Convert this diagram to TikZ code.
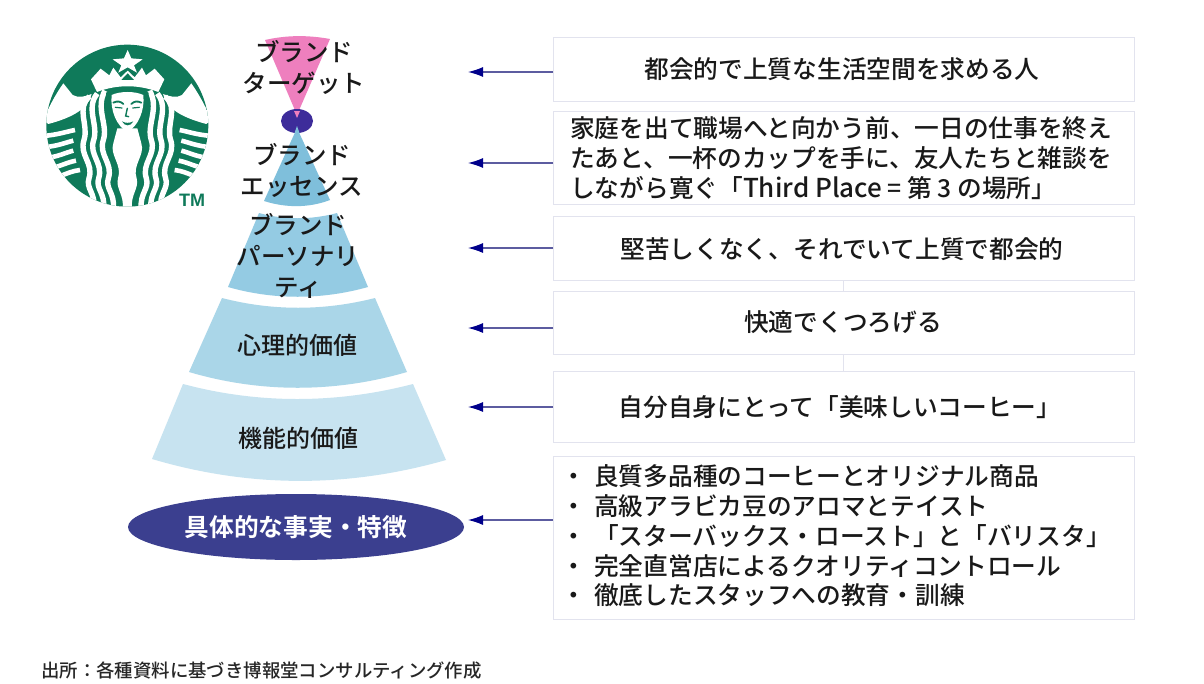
\documentclass[tikz,border=0pt]{standalone}
\usepackage{fontspec}
\setmainfont{Noto Sans CJK JP}[UprightFont={* Medium},BoldFont={* Bold}]
\newfontfamily\tmfont{Liberation Sans}
\definecolor{sbgreen}{HTML}{0F7A5A}
\definecolor{navyarrow}{HTML}{00008B}
\definecolor{arrowline}{HTML}{5C5CA0}
\definecolor{boxline}{HTML}{E2E3EE}
\definecolor{pinkseg}{HTML}{EE7FBE}
\definecolor{essseg}{HTML}{7FBFDB}
\definecolor{perseg}{HTML}{94CBE3}
\definecolor{psyseg}{HTML}{AAD6E8}
\definecolor{funseg}{HTML}{C7E3F0}
\definecolor{ellnavy}{HTML}{3B3F8F}
\definecolor{dotnavy}{HTML}{3D2C9A}
\usetikzlibrary{arrows.meta,shapes.geometric}
\newcommand{\listbul}{\makebox[33pt][l]{・}}
\tikzset{
  infobox/.style={draw=boxline,line width=1.4pt,fill=white,rectangle,inner sep=0pt,anchor=north west},
  infotext/.style={font=\fontsize{24.7}{30}\selectfont,text=black!90,align=left},
  lefttext/.style={font=\fontsize{24.5}{31}\selectfont,text=black!90,align=center},
  arrowconn/.style={draw=arrowline,line width=1.2pt,-{Latex[length=15pt,width=10pt,color=navyarrow]}},
}
\begin{document}
\begin{tikzpicture}[x=1pt,y=-1pt]
\useasboundingbox (0,0) rectangle (1204,683);
\fill[white] (0,0) rectangle (1204,683);
% segments
\fill[pinkseg] (265,40) .. controls (287,35) and (308,35) .. (330,39) -- (297,115) -- cycle;
\fill[essseg] (297,128) -- (330,200) .. controls (309,208) and (286,208) .. (264,201) -- cycle;
\fill[perseg] (259,213) .. controls (284,220) and (311,220) .. (337,213) -- (368,287) .. controls (322,300) and (273,300) .. (228,287) -- cycle;
\fill[psyseg] (222,298) .. controls (272,311) and (324,311) .. (375,298) -- (407,372) .. controls (335,393) and (260,393) .. (189,372) -- cycle;
\fill[funseg] (183,384) .. controls (258,404) and (336,404) .. (413,384) -- (446,460) .. controls (348,488) and (250,488) .. (152,459) -- cycle;
\node[fill=dotnavy,ellipse,minimum width=32pt,minimum height=24pt,inner sep=0pt] (dot) at (297,121) {};
\fill[pinkseg] (294,111) -- (300,111) -- (297,118) -- cycle;
\fill[essseg] (294.5,133) -- (299.5,133) -- (297,126) -- cycle;
\node[fill=ellnavy,ellipse,minimum width=336pt,minimum height=66pt,inner sep=0pt] (facts) at (296,527) {};
% left labels
\node[lefttext] (target) at (304,67) {ブランド\\ターゲット};
\node[lefttext] (essence) at (302,170) {ブランド\\エッセンス};
\node[lefttext] (personality) at (298,256) {ブランド\\パーソナリ\\ティ};
\node[lefttext] (psych) at (297,345) {\fontsize{24}{28}\selectfont 心理的価値};
\node[lefttext] (func) at (298,438) {\fontsize{24}{28}\selectfont 機能的価値};
\node[lefttext,text=white] (factslabel) at (296,527) {\fontsize{24.7}{30}\selectfont\bfseries 具体的な事実・特徴};
% boxes
\draw[boxline,line width=1pt] (843,280) -- (843,291);
\draw[boxline,line width=1pt] (843,354) -- (843,371);
\node[infobox,minimum width=581pt,minimum height=64pt] (b1) at (553,37) {};
\node[infobox,minimum width=581pt,minimum height=93pt] (b2) at (553,111) {};
\node[infobox,minimum width=581pt,minimum height=64pt] (b3) at (553,216) {};
\node[infobox,minimum width=581pt,minimum height=63pt] (b4) at (553,291) {};
\node[infobox,minimum width=581pt,minimum height=71pt] (b5) at (553,371) {};
\node[infobox,minimum width=581pt,minimum height=163pt] (b6) at (553,456) {};
\node[infotext] (t1) at (842,69) {都会的で上質な生活空間を求める人};
\node[infotext,anchor=west,inner sep=0pt] (t2) at (570,158) {家庭を出て職場へと向かう前、一日の仕事を終え\\たあと、一杯のカップを手に、友人たちと雑談を\\しながら寛ぐ「{\fontsize{26}{30}\selectfont Third Place} = 第 3 の場所」};
\node[infotext] (t3) at (842,249) {堅苦しくなく、それでいて上質で都会的};
\node[infotext] (t4) at (843,322) {快適でくつろげる};
\node[infotext] (t5) at (840,407) {自分自身にとって「美味しいコーヒー」};
\node[infotext,anchor=west,inner sep=0pt,font=\fontsize{24.7}{29.7}\selectfont] (t6) at (561,536) {\listbul 良質多品種のコーヒーとオリジナル商品\\\listbul 高級アラビカ豆のアロマとテイスト\\\listbul 「スターバックス・ロースト」と「バリスタ」\\\listbul 完全直営店によるクオリティコントロール\\\listbul 徹底したスタッフへの教育・訓練};
% arrows
\coordinate (a1) at (468,72);
\coordinate (a2) at (468,163);
\coordinate (a3) at (468,248);
\coordinate (a4) at (468,328);
\coordinate (a5) at (468,407);
\coordinate (a6) at (468,520);
\draw[arrowconn] (b1.west |- a1) -- (a1);
\draw[arrowconn] (b2.west |- a2) -- (a2);
\draw[arrowconn] (b3.west |- a3) -- (a3);
\draw[arrowconn] (b4.west |- a4) -- (a4);
\draw[arrowconn] (b5.west |- a5) -- (a5);
\draw[arrowconn] (b6.west |- a6) -- (a6);
% footer
\node[anchor=west,inner sep=0pt,font=\fontsize{18.4}{22}\selectfont,text=black!85] (source) at (41,670) {出所：各種資料に基づき博報堂コンサルティング作成};
% logo (drawn in 3x zoom coordinates)
\begin{scope}[shift={(30,30)},x=0.3333pt,y=-0.3333pt]
\fill[sbgreen] (292,287) circle[radius=243];
\begin{scope}
\clip (292,287) circle[radius=243];
% star
\fill[white] (293,60) -- (304,85) -- (338,88) -- (312,106) -- (321,128) -- (293,112) -- (265,128) -- (274,106) -- (248,88) -- (282,85) -- cycle;
% fins
\fill[white] (100,160) -- (128,195) .. controls (145,205) and (165,200) .. (185,192) .. controls (175,235) and (130,262) .. (55,282) -- (40,270) .. controls (52,240) and (75,195) .. (100,160) -- cycle;
\fill[white] (484,160) -- (456,195) .. controls (440,205) and (420,200) .. (399,192) .. controls (409,235) and (454,262) .. (529,282) -- (544,270) .. controls (532,240) and (509,195) .. (484,160) -- cycle;
% tail stripes
\foreach \sy/\ey/\ex in {318/300/135,352/332/130,385/362/130,418/392/138,452/420/150}{
  \draw[white,line width=4.6pt] (40,\sy) .. controls (85,\sy-4) and (105,\ey+6) .. (\ex,\ey);
  \draw[white,line width=4.6pt] (544,\sy) .. controls (499,\sy-4) and (479,\ey+6) .. (584-\ex,\ey);
}
% hair strands
\foreach \ox in {0,29,58}{
  \draw[white,line width=5.4pt] (225-\ox*0.8,182+\ox*0.3) .. controls (195-\ox,235) and (235-\ox,285) .. (220-\ox,330) .. controls (205-\ox,375) and (250-\ox,400) .. (235-\ox,445) .. controls (225-\ox,475) and (255-\ox,490) .. (250-\ox,535);
  \draw[white,line width=5.4pt] (359+\ox*0.8,182+\ox*0.3) .. controls (389+\ox,235) and (349+\ox,285) .. (364+\ox,330) .. controls (379+\ox,375) and (334+\ox,400) .. (349+\ox,445) .. controls (359+\ox,475) and (329+\ox,490) .. (334+\ox,535);
}
% chest
\fill[white] (262,295) -- (250,340) .. controls (238,375) and (278,405) .. (264,445) .. controls (256,475) and (283,495) .. (278,535) -- (306,535) .. controls (301,495) and (328,475) .. (320,445) .. controls (306,405) and (346,375) .. (334,340) -- (322,295) -- cycle;
% crown
\fill[white] (183,148) -- (212,116) -- (238,136) -- (250,113) -- (272,142) -- (293,122) -- (314,142) -- (336,113) -- (348,136) -- (374,116) -- (403,148) -- (385,186) .. controls (325,163) and (260,163) .. (201,186) -- cycle;
\fill[sbgreen] (293,130) -- (312,150) -- (274,150) -- cycle;
\end{scope}
% face
\fill[sbgreen] (228,188) .. controls (265,172) and (320,172) .. (356,188) -- (350,240) -- (234,240) -- cycle;
\fill[white] (245,195) .. controls (270,183) and (315,183) .. (340,195) .. controls (345,240) and (325,290) .. (292,305) .. controls (260,290) and (240,240) .. (245,195) -- cycle;
\draw[sbgreen,line width=1.8pt,line cap=round] (250,218) .. controls (262,212) and (272,214) .. (280,222);
\draw[sbgreen,line width=1.8pt,line cap=round] (334,218) .. controls (322,212) and (312,214) .. (304,222);
\draw[sbgreen,line width=1.2pt,line cap=round] (256,232) -- (276,234);
\draw[sbgreen,line width=1.2pt,line cap=round] (328,232) -- (308,234);
\draw[sbgreen,line width=1.4pt,line cap=round] (292,235) -- (287,258) -- (296,260);
\fill[sbgreen] (276,274) .. controls (285,280) and (300,280) .. (310,274) .. controls (302,290) and (284,290) .. (276,274) -- cycle;
\end{scope}
\node[font=\tmfont\fontsize{18}{18}\selectfont\bfseries,text=sbgreen,inner sep=0pt] (tmlabel) at (192,200) {TM};
\end{tikzpicture}
\end{document}
